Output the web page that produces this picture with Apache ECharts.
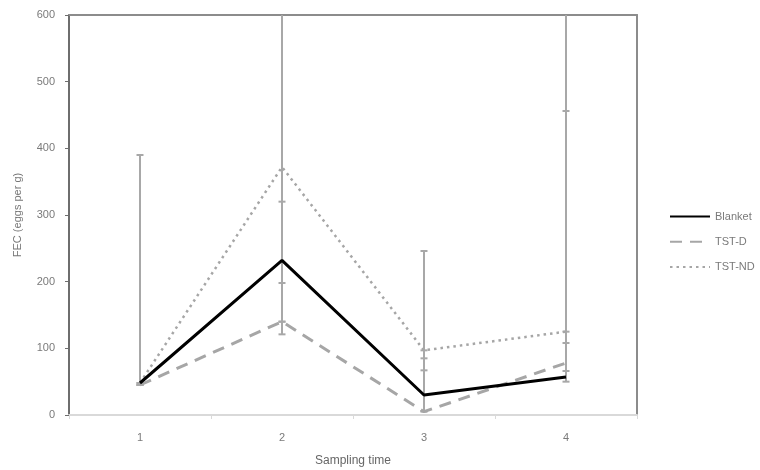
<!DOCTYPE html>
<html><head><meta charset="utf-8">
<script src="https://cdn.jsdelivr.net/npm/echarts@6/dist/echarts.min.js"></script>
<style>html,body{margin:0;padding:0;background:#fff}#c{width:760px;height:470px}</style>
</head><body><div id="c"></div>
<script>
var categories = ['1', '2', '3', '4'];
var blanket = [48, 232, 30, 57];
var tstD = [45, 140, 5, 78];
var tstND = [48, 372, 97, 125];
var blanketLow = [45, 121, 6, 50];
var blanketHigh = [390, 320, 246, 456];
var tstDLow = [45, 140, 5, 66];
var tstDHigh = [45, 140, 67, 108];
var tstNDLow = [48, 198, 85, 125];
var tstNDHigh = [48, 700, 97, 700];

function errData(low, high) {
  return categories.map(function (c, i) { return [i, low[i], high[i]]; });
}
function errSeries(low, high) {
  return {
    type: 'custom', clip: true, z: 1, silent: true,
    renderItem: function (params, api) {
      var x = api.value(0);
      var lo = api.coord([x, api.value(1)]);
      var hi = api.coord([x, api.value(2)]);
      var w = 3.5;
      var st = { stroke: '#a8a8a8', lineWidth: 2 };
      return { type: 'group', children: [
        { type: 'line', shape: { x1: lo[0], y1: lo[1], x2: hi[0], y2: hi[1] }, style: st },
        { type: 'line', shape: { x1: lo[0] - w, y1: lo[1], x2: lo[0] + w, y2: lo[1] }, style: st },
        { type: 'line', shape: { x1: hi[0] - w, y1: hi[1], x2: hi[0] + w, y2: hi[1] }, style: st }
      ]};
    },
    encode: { x: 0, y: [1, 2] },
    data: errData(low, high)
  };
}
var labelColor = '#7a7a7a';
var chart = echarts.init(document.getElementById('c'));
chart.setOption({
  animation: false,
  textStyle: { fontFamily: 'Liberation Sans, Arial, sans-serif' },
  grid: { left: 69, right: 123, top: 15, bottom: 55, outerBoundsMode: 'none', containLabel: false },
  legend: {
    orient: 'vertical', left: 664, top: 206, itemWidth: 40, itemHeight: 14, itemGap: 14,
    textStyle: { color: labelColor, fontSize: 11 },
    itemStyle: { opacity: 0 },
    data: ['Blanket', 'TST-D', 'TST-ND']
  },
  xAxis: [{
    type: 'category', data: categories, boundaryGap: true,
    name: 'Sampling time', nameLocation: 'middle', nameGap: 40,
    nameTextStyle: { color: '#666', fontSize: 12 },
    axisLine: { onZero: false, lineStyle: { color: '#d9d9d9', width: 2 } },
    axisTick: { show: true, length: 4, lineStyle: { color: '#d9d9d9' } },
    axisLabel: { color: labelColor, fontSize: 11, margin: 17 }
  }, {
    type: 'category', data: categories, position: 'top',
    axisLine: { onZero: false, lineStyle: { color: '#8c8c8c', width: 2 } },
    axisTick: { show: false }, axisLabel: { show: false }
  }],
  yAxis: [{
    type: 'value', min: 0, max: 600, interval: 100,
    name: 'FEC (eggs per g)', nameLocation: 'middle', nameGap: 46,
    nameTextStyle: { color: '#777', fontSize: 11 },
    axisLine: { show: true, onZero: false, lineStyle: { color: '#6e6e6e', width: 2 } },
    axisTick: { show: true, length: 4, lineStyle: { color: '#6e6e6e' } },
    axisLabel: { color: labelColor, fontSize: 11, margin: 14 },
    splitLine: { show: false }
  }, {
    type: 'value', min: 0, max: 600, position: 'right',
    axisLine: { show: true, onZero: false, lineStyle: { color: '#8c8c8c', width: 2 } },
    axisTick: { show: false }, axisLabel: { show: false }, splitLine: { show: false }
  }],
  series: [
    errSeries(blanketLow, blanketHigh),
    errSeries(tstDLow, tstDHigh),
    errSeries(tstNDLow, tstNDHigh),
    { name: 'Blanket', type: 'line', data: blanket, symbol: 'none', z: 3,
      lineStyle: { color: '#000', width: 3 }, itemStyle: { color: '#000' } },
    { name: 'TST-D', type: 'line', data: tstD, symbol: 'none', z: 2,
      lineStyle: { color: '#a6a6a6', width: 3, type: [12, 8] }, itemStyle: { color: '#a6a6a6' } },
    { name: 'TST-ND', type: 'line', data: tstND, symbol: 'none', z: 2,
      lineStyle: { color: '#a6a6a6', width: 2.5, type: [2.5, 4] }, itemStyle: { color: '#a6a6a6' } }
  ]
});
</script></body></html>
